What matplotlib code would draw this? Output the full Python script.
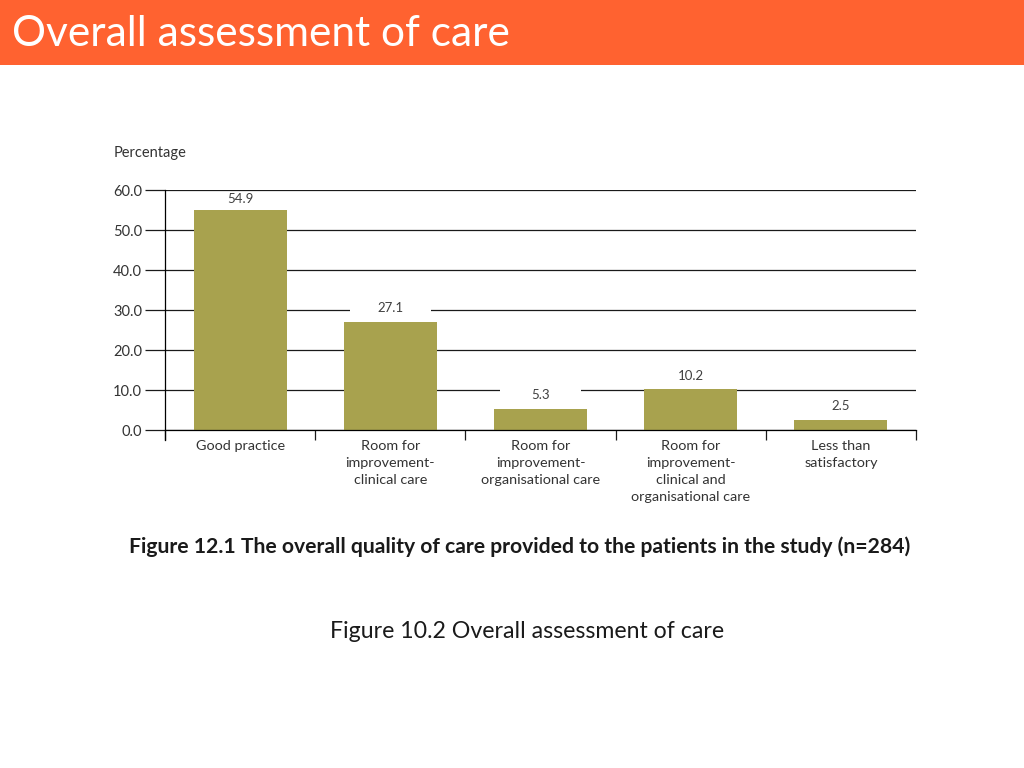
"""Overall assessment of care slide: bar chart of care quality categories."""

import matplotlib

matplotlib.use("Agg")
import matplotlib.pyplot as plt  # noqa: E402
from matplotlib.patches import Rectangle  # noqa: E402

HEADER = "#FF6230"
OLIVE = "#A8A24E"
INK = "#1A1A1A"
GREY = "#404040"

categories = [
    "Good practice",
    "Room for\nimprovement-\nclinical care",
    "Room for\nimprovement-\norganisational care",
    "Room for\nimprovement-\nclinical and\norganisational care",
    "Less than\nsatisfactory",
]
percentages = [54.9, 27.1, 5.3, 10.2, 2.5]
y_ticks = [0, 10, 20, 30, 40, 50, 60]

plt.rcParams["font.family"] = ["Lato", "DejaVu Sans"]

W, H = 1024, 768
fig = plt.figure(figsize=(W / 100, H / 100), dpi=100)

# orange header band with slide title
fig.patches.append(
    Rectangle((0, 1 - 65 / H), 1, 65 / H, transform=fig.transFigure,
              facecolor=HEADER, edgecolor="none", zorder=0)
)
fig.text(12 / W, 1 - 34 / H, "Overall assessment of care", color="white",
         fontsize=30.5, va="center", ha="left")

# plot area in pixel positions
left, right, top, bottom = 165, 916, 190, 430
ax = fig.add_axes([left / W, 1 - bottom / H, (right - left) / W, (bottom - top) / H])

xs = [i + 0.5 for i in range(len(categories))]
bars = ax.bar(xs, percentages, width=0.62, color=OLIVE, zorder=2)

ax.set_xlim(0, len(categories))
ax.set_ylim(0, 60)
ax.set_yticks(y_ticks)
ax.set_yticklabels([f"{v:.1f}" for v in y_ticks], fontsize=10.5, color="#333333")
ax.tick_params(axis="y", length=14.4, width=0.9, color=INK, pad=2)

ax.set_xticks(range(len(categories) + 1))
ax.set_xticklabels([])
ax.tick_params(axis="x", length=7.5, width=0.9, color=INK)
ax.set_xticks(xs, minor=True)
ax.set_xticklabels(categories, minor=True, fontsize=10.4, color="#333333",
                   linespacing=1.5, va="top")
ax.tick_params(axis="x", which="minor", length=0, pad=7)

ax.yaxis.grid(True, color=INK, lw=0.9)
ax.set_axisbelow(True)
for side in ("top", "right"):
    ax.spines[side].set_visible(False)
ax.spines["left"].set_bounds(-2.5, 60)
ax.spines["left"].set_linewidth(0.9)
ax.spines["bottom"].set_linewidth(0.9)

# value labels sit on a white strip that breaks the gridlines behind them
for rect, val in zip(bars, percentages):
    cx = rect.get_x() + rect.get_width() / 2
    ly = min(val + 3.4, 57.75)
    ax.add_patch(Rectangle((cx - 0.27, ly - 3.0), 0.54, 4.8, facecolor="white",
                           edgecolor="none", zorder=1.5))
    ax.text(cx, ly, f"{val:.1f}", ha="center", va="center", fontsize=9.5,
            color=GREY, zorder=3)

fig.text(114 / W, 1 - 153 / H, "Percentage", fontsize=10.5, color="#333333",
         va="center", ha="left")

fig.text(520 / W, 1 - 547 / H,
         "Figure 12.1 The overall quality of care provided to the patients in the study (n=284)",
         fontsize=15.2, fontweight="bold", color=INK, ha="center", va="center")

fig.text(527 / W, 1 - 631 / H, "Figure 10.2 Overall assessment of care",
         fontsize=16.7, color=INK, ha="center", va="center")

fig.savefig("out.png", dpi=100, facecolor="white")
